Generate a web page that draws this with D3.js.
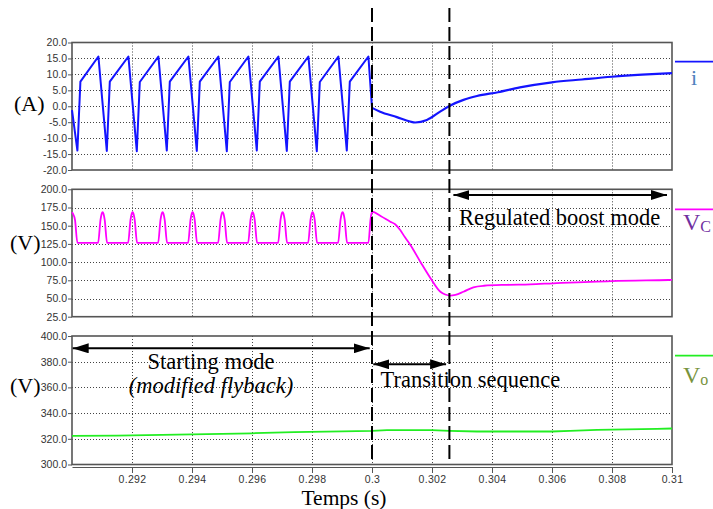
<!DOCTYPE html>
<html><head><meta charset="utf-8">
<script src="https://cdn.jsdelivr.net/npm/d3@7"></script>
<style>
html,body{margin:0;padding:0;background:#fff;}
svg{display:block;}
.tick text{font-family:"Liberation Sans",Arial,sans-serif;fill:#333;}
</style></head>
<body>
<svg id="chart" width="713" height="509"></svg>
<script>
// ---------- DATA ----------
const xDomain = [0.29, 0.31];
const xTickValues = [0.292, 0.294, 0.296, 0.298, 0.300, 0.302, 0.304, 0.306, 0.308, 0.310];
const xTickLabels = ["0.292", "0.294", "0.296", "0.298", "0.3", "0.302", "0.304", "0.306", "0.308", "0.31"];

const iTickValues = [20, 15, 10, 5, 0, -5, -10, -15, -20];
const iTickLabels = ["20.0", "15.0", "10.0", "5.0", "0.0", "-5.0", "-10.0", "-15.0", "-20.0"];
const vcTickValues = [200, 175, 150, 125, 100, 75, 50, 25];
const vcTickLabels = ["200.0", "175.0", "150.0", "125.0", "100.0", "75.0", "50.0", "25.0"];
const voTickValues = [400, 380, 360, 340, 320, 300];
const voTickLabels = ["400.0", "380.0", "360.0", "340.0", "320.0", "300.0"];

// current i (A) : starting mode (sawtooth) [time, value]
const iStarting = [
  [0.29000, -1.2], [0.29018, -13.9], [0.29028, 7.7],
  [0.29088, 15.6], [0.29116, -14.0], [0.29126, 7.7],
  [0.29188, 15.6], [0.29216, -14.1], [0.29226, 7.6],
  [0.29288, 15.6], [0.29316, -13.9], [0.29326, 7.7],
  [0.29388, 15.6], [0.29416, -14.0], [0.29426, 7.7],
  [0.29488, 15.6], [0.29516, -14.1], [0.29526, 7.6],
  [0.29588, 15.6], [0.29616, -13.9], [0.29626, 7.7],
  [0.29688, 15.6], [0.29716, -14.0], [0.29726, 7.7],
  [0.29788, 15.6], [0.29816, -14.1], [0.29826, 7.6],
  [0.29888, 15.6], [0.29916, -13.9], [0.29926, 7.7],
  [0.29988, 15.6], [0.30000, -0.5]
];
// current i (A) : transition + regulated boost
const iRegulated = [
  [0.30000, -0.5], [0.30027, -1.7], [0.30083, -3.4], [0.30127, -4.8], [0.30144, -5.1],
  [0.30183, -4.3], [0.30227, -1.7], [0.30258, 0.1], [0.30305, 2.0], [0.30350, 3.2],
  [0.30420, 4.4], [0.30493, 5.9], [0.30600, 7.5], [0.30700, 8.4], [0.30800, 9.25],
  [0.30900, 9.9], [0.31000, 10.4]
];
// capacitor voltage Vc (V)
const vcValues = [
  [0.29000, 168.5], [0.29003, 166.5], [0.29010, 158], [0.29018, 126.5],
  [0.29087, 126.5], [0.29095, 158], [0.29099, 166.5], [0.29102, 168.5], [0.29105, 166.5], [0.29109, 158], [0.29117, 126.5],
  [0.29187, 126.5], [0.29195, 158], [0.29199, 166.5], [0.29202, 168.5], [0.29205, 166.5], [0.29209, 158], [0.29217, 126.5],
  [0.29287, 126.5], [0.29295, 158], [0.29299, 166.5], [0.29302, 168.5], [0.29305, 166.5], [0.29309, 158], [0.29317, 126.5],
  [0.29387, 126.5], [0.29395, 158], [0.29399, 166.5], [0.29402, 168.5], [0.29405, 166.5], [0.29409, 158], [0.29417, 126.5],
  [0.29487, 126.5], [0.29495, 158], [0.29499, 166.5], [0.29502, 168.5], [0.29505, 166.5], [0.29509, 158], [0.29517, 126.5],
  [0.29587, 126.5], [0.29595, 158], [0.29599, 166.5], [0.29602, 168.5], [0.29605, 166.5], [0.29609, 158], [0.29617, 126.5],
  [0.29687, 126.5], [0.29695, 158], [0.29699, 166.5], [0.29702, 168.5], [0.29705, 166.5], [0.29709, 158], [0.29717, 126.5],
  [0.29787, 126.5], [0.29795, 158], [0.29799, 166.5], [0.29802, 168.5], [0.29805, 166.5], [0.29809, 158], [0.29817, 126.5],
  [0.29887, 126.5], [0.29895, 158], [0.29899, 166.5], [0.29902, 168.5], [0.29905, 166.5], [0.29909, 158], [0.29917, 126.5],
  [0.29988, 126.5], [0.29995, 158], [0.30000, 169.2],
  [0.30030, 163], [0.30061, 155.5], [0.30077, 152], [0.30094, 144], [0.30110, 134],
  [0.30128, 123.5], [0.30161, 100.6], [0.30194, 78.6], [0.30228, 59.3], [0.30244, 55.5],
  [0.30261, 54], [0.30278, 55], [0.30305, 59.3], [0.30338, 65.4], [0.30373, 67.5],
  [0.30450, 68.8], [0.30527, 69.5], [0.30604, 70.9], [0.30798, 74], [0.30988, 75.4], [0.31000, 75.5]
];
// output voltage Vo (V)
const voValues = [
  [0.29000, 322.2], [0.29150, 322.5], [0.29300, 323.0], [0.29400, 323.5], [0.29600, 324.3],
  [0.29740, 325.2], [0.29900, 325.8], [0.30000, 326.2], [0.30050, 326.8], [0.30200, 326.8],
  [0.30258, 326.2], [0.30350, 325.7], [0.30600, 325.7], [0.30660, 326.2], [0.30750, 327.0],
  [0.30850, 327.3], [0.30950, 327.8], [0.31000, 328.0]
];
// phase boundaries (s)
const phaseTimes = [0.300, 0.30258];

// ---------- LAYOUT ----------
const svg = d3.select("#chart");
const left = 72, right = 672;
const x = d3.scaleLinear().domain(xDomain).range([left, right]);
const serif = '"Liberation Serif","Times New Roman",serif';

const panels = [
  {top: 42.5, bottom: 170, domain: [-20, 20], ticks: iTickValues, labels: iTickLabels},
  {top: 189.3, bottom: 316.7, domain: [25, 200], ticks: vcTickValues, labels: vcTickLabels},
  {top: 336, bottom: 464.5, domain: [300, 400], ticks: voTickValues, labels: voTickLabels}
];
panels.forEach(p => { p.y = d3.scaleLinear().domain(p.domain).range([p.bottom, p.top]); });

// defs: arrow heads
const defs = svg.append("defs");
defs.append("marker").attr("id", "ah").attr("viewBox", "0 0 16 10")
  .attr("refX", 16).attr("refY", 5).attr("markerWidth", 16).attr("markerHeight", 10)
  .attr("markerUnits", "userSpaceOnUse").attr("orient", "auto-start-reverse")
  .append("path").attr("d", "M0,0 L16,5 L0,10 Z").attr("fill", "#000");

panels.forEach(p => {
  const g = svg.append("g");
  // grid
  g.selectAll("line.hg").data(p.ticks.filter(t => t !== p.domain[0] && t !== p.domain[1]))
    .join("line").attr("x1", left).attr("x2", right)
    .attr("y1", d => Math.round(p.y(d)) + 0.5).attr("y2", d => Math.round(p.y(d)) + 0.5)
    .attr("stroke", "#444").attr("stroke-width", 1).attr("stroke-dasharray", "1,2");
  g.selectAll("line.vg").data(xTickValues.filter(t => t < xDomain[1]))
    .join("line").attr("x1", d => Math.round(x(d)) + 0.5).attr("x2", d => Math.round(x(d)) + 0.5)
    .attr("y1", p.top).attr("y2", p.bottom)
    .attr("stroke", "#444").attr("stroke-width", 1).attr("stroke-dasharray", "1,2");
  // frame
  g.append("rect").attr("x", left).attr("y", p.top).attr("width", right - left).attr("height", p.bottom - p.top)
    .attr("fill", "none").attr("stroke", "#555").attr("stroke-width", 1.6);
  // y axis
  const ax = g.append("g").attr("transform", `translate(${left},0)`)
    .call(d3.axisLeft(p.y).tickValues(p.ticks).tickFormat((d, i) => p.labels[i]).tickSize(4).tickPadding(1));
  ax.select(".domain").remove();
  ax.selectAll(".tick line").attr("stroke", "#555");
  ax.selectAll(".tick text").attr("font-size", 10.5).attr("fill", "#333");
});

// x axis below the last panel
const xa = svg.append("g").attr("transform", "translate(0,467)")
  .call(d3.axisBottom(x).tickValues(xTickValues).tickFormat((d, i) => xTickLabels[i]).tickSize(6).tickPadding(3).tickSizeOuter(0));
xa.select(".domain").attr("stroke", "#555").attr("stroke-width", 1.2);
xa.selectAll(".tick line").attr("stroke", "#555");
xa.selectAll(".tick text").attr("font-size", 10.5).attr("fill", "#333").attr("letter-spacing", "0.3px");

// series
const [pI, pVc, pVo] = panels;
const lineI = d3.line().x(d => x(d[0])).y(d => pI.y(d[1]));
svg.append("path").attr("d", lineI(iStarting)).attr("fill", "none").attr("stroke", "#1414ff").attr("stroke-width", 2).attr("stroke-linejoin", "round");
svg.append("path").attr("d", lineI.curve(d3.curveMonotoneX)(iRegulated)).attr("fill", "none").attr("stroke", "#1414ff").attr("stroke-width", 2.2);
const lineVc = d3.line().x(d => x(d[0])).y(d => pVc.y(d[1])).curve(d3.curveMonotoneX);
svg.append("path").attr("d", lineVc(vcValues)).attr("fill", "none").attr("stroke", "#ff00ff").attr("stroke-width", 1.8);
const lineVo = d3.line().x(d => x(d[0])).y(d => pVo.y(d[1]));
svg.append("path").attr("d", lineVo(voValues)).attr("fill", "none").attr("stroke", "#22ee22").attr("stroke-width", 1.8);

// dashed phase lines
svg.selectAll("line.phase").data(phaseTimes).join("line")
  .attr("x1", d => x(d)).attr("x2", d => x(d)).attr("y1", 8).attr("y2", 463)
  .attr("stroke", "#000").attr("stroke-width", 2).attr("stroke-dasharray", "14,5");

// legends on the right
const legends = [
  {y: 61.7, color: "#1414ff", text: "i", tcolor: "#4f81bd", base: 85, sub: null},
  {y: 209.3, color: "#ff00ff", text: "V", tcolor: "#7030a0", base: 230, sub: "C"},
  {y: 355.7, color: "#22ee22", text: "V", tcolor: "#77933c", base: 383, sub: "o"}
];
legends.forEach(l => {
  svg.append("line").attr("x1", 675).attr("x2", 713).attr("y1", l.y).attr("y2", l.y).attr("stroke", l.color).attr("stroke-width", 1.8);
  const t = svg.append("text").attr("x", l.sub ? 683 : 691).attr("y", l.base).attr("font-family", serif)
    .attr("font-size", l.sub ? 24 : 22).attr("fill", l.tcolor).text(l.text);
  if (l.sub) t.append("tspan").attr("font-size", 16).attr("dy", 2).text(l.sub);
});

// unit labels
const units = [["(A)", 14, 111], ["(V)", 10, 250], ["(V)", 10, 393]];
units.forEach(u => svg.append("text").attr("x", u[1]).attr("y", u[2]).attr("font-family", serif).attr("font-size", 22).attr("fill", "#000").text(u[0]));

// phase arrows
const arrows = [
  {x1: xDomain[0], x2: phaseTimes[0], y: 348.3, o1: 0.7, o2: -2.3},
  {x1: phaseTimes[0], x2: phaseTimes[1], y: 364.3, o1: 1.3, o2: -3.3},
  {x1: phaseTimes[1], x2: xDomain[1], y: 195, o1: 4, o2: -5}
];
arrows.forEach(a => {
  svg.append("line").attr("x1", x(a.x1) + a.o1).attr("x2", x(a.x2) + a.o2).attr("y1", a.y).attr("y2", a.y)
    .attr("stroke", "#000").attr("stroke-width", 2)
    .attr("marker-start", "url(#ah)").attr("marker-end", "url(#ah)");
});

// annotations
const notes = [
  {t: "Regulated boost mode", x: 459, y: 225, anchor: "start", italic: false},
  {t: "Starting mode", x: 211, y: 369, anchor: "middle", italic: false},
  {t: "(modified flyback)", x: 211, y: 393, anchor: "middle", italic: true},
  {t: "Transition sequence", x: 380.5, y: 386.7, anchor: "start", italic: false}
];
notes.forEach(n => svg.append("text").attr("x", n.x).attr("y", n.y).attr("text-anchor", n.anchor)
  .attr("font-family", serif).attr("font-size", 22.5).attr("font-style", n.italic ? "italic" : "normal")
  .attr("fill", "#000").text(n.t));

// x title
svg.append("text").attr("x", 344).attr("y", 505).attr("text-anchor", "middle")
  .attr("font-family", serif).attr("font-size", 21.5).attr("fill", "#000").text("Temps (s)");
</script>
</body></html>
